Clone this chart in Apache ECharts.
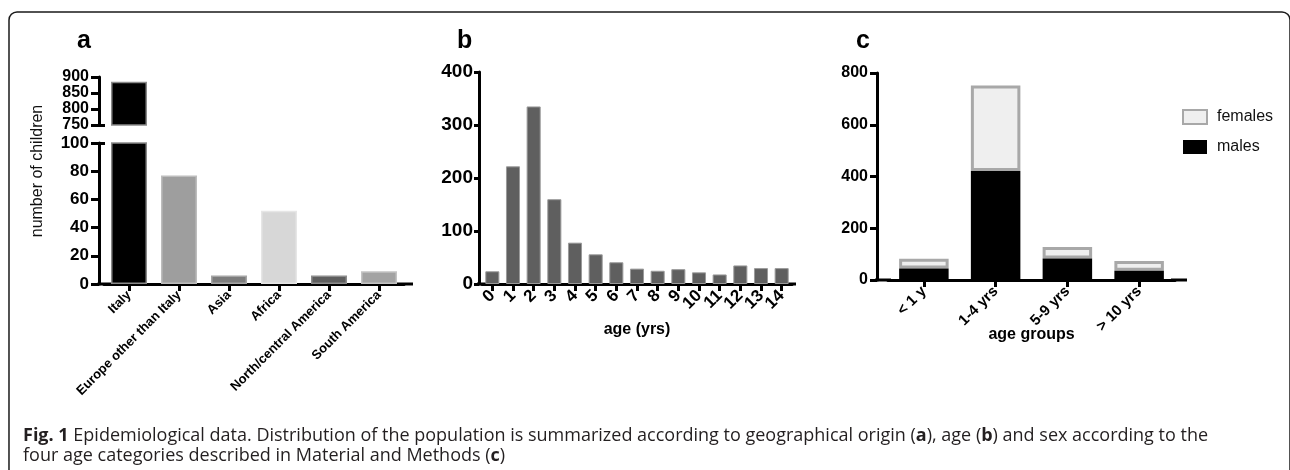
<!DOCTYPE html>
<html>
<head>
<meta charset="utf-8">
<title>Fig. 1 Epidemiological data</title>
<script src="https://cdn.jsdelivr.net/npm/echarts@6/dist/echarts.min.js"></script>
<style>
  html, body { margin: 0; padding: 0; background: #fff; }
  #chart { width: 1290px; height: 470px; }
</style>
</head>
<body>
<div id="chart"></div>
<script>
// panel a - geographical origin (broken y axis)
var originNames = ['Italy', 'Europe other than Italy', 'Asia', 'Africa', 'North/central America', 'South America'];
var originCounts = [885, 77, 6, 52, 6, 9];
var upperTicks = [750, 800, 850, 900];
var lowerTicks = [0, 20, 40, 60, 80, 100];

// panel b - age in years
var ageYears = ['0', '1', '2', '3', '4', '5', '6', '7', '8', '9', '10', '11', '12', '13', '14'];
var ageCounts = [24, 222, 335, 160, 78, 56, 41, 29, 25, 28, 22, 18, 35, 30, 30];
var ageTicks = [0, 100, 200, 300, 400];

// panel c - sex by age group
var ageGroups = ['< 1 y', '1-4 yrs', '5-9 yrs', '> 10 yrs'];
var males = [44, 421, 83, 36];
var females = [38, 331, 45, 37];
var groupTicks = [0, 200, 400, 600, 800];

// bar shades for panel a
var originFill = ['#000000', '#9e9e9e', '#7c7c7c', '#d7d7d7', '#5e5e5e', '#a3a3a3'];
var originEdge = ['#8a8a8a', '#bdbdbd', '#a5a5a5', '#e6e6e6', '#8c8c8c', '#c4c4c4'];

var FONT = '"Liberation Sans", Arial, sans-serif';
var chart = echarts.init(document.getElementById('chart'));

function line() { return { show: true, onZero: false, lineStyle: { color: '#000', width: 3 } }; }
function tick(len) { return { show: true, length: len, lineStyle: { color: '#000', width: 3 } }; }
function yAxis(grid, ticks, offset, size, len, margin) {
    return {
        type: 'value', gridIndex: grid, position: 'left', min: ticks[0], max: ticks[ticks.length - 1],
        interval: ticks[1] - ticks[0], offset: offset,
        axisLine: line(), axisTick: tick(len),
        axisLabel: {
            show: true, showMinLabel: true, showMaxLabel: true, hideOverlap: false,
            color: '#000', fontFamily: FONT, fontWeight: 'bold', fontSize: size, margin: margin
        },
        splitLine: { show: false }
    };
}
// extra axis that only draws the inner half of the break marks
function capAxis(grid, ticks, val, offset) {
    return {
        type: 'value', gridIndex: grid, position: 'left', min: ticks[0], max: ticks[ticks.length - 1],
        offset: offset, axisLine: { show: false }, axisLabel: { show: false },
        splitLine: { show: false },
        axisTick: { show: true, inside: true, length: 6, customValues: [val], lineStyle: { color: '#000', width: 3 } }
    };
}
// category x axis, the line is stretched with rect end symbols to meet the y axis
function xAxis(grid, cats, size, margin, name, gap, ext, ends) {
    var l = line();
    l.symbol = ['rect', 'rect'];
    l.symbolSize = [3, ext];
    l.symbolOffset = ends;
    return {
        type: 'category', gridIndex: grid, data: cats,
        axisLine: l, axisTick: { show: true, alignWithLabel: true, length: 7, lineStyle: { color: '#000', width: 3 } },
        axisLabel: { interval: 0, rotate: 45, color: '#000', fontFamily: FONT, fontWeight: 'bold', fontSize: size, margin: margin },
        name: name, nameLocation: 'middle', nameGap: gap, nameMoveOverlap: false,
        nameTextStyle: { color: '#000', fontFamily: FONT, fontWeight: 'bold', fontSize: 16 }
    };
}

var originData = originCounts.map(function (v, i) {
    return { value: v, itemStyle: { color: originFill[i], borderColor: originEdge[i] } };
});

var option = {
    animation: false,
    backgroundColor: '#fff',
    title: [
        { text: 'a', left: 72, top: 24, textStyle: { fontFamily: FONT, fontWeight: 'bold', fontSize: 25, color: '#000' } },
        { text: 'b', left: 452, top: 24, textStyle: { fontFamily: FONT, fontWeight: 'bold', fontSize: 25, color: '#000' } },
        { text: 'c', left: 851, top: 24, textStyle: { fontFamily: FONT, fontWeight: 'bold', fontSize: 25, color: '#000' } },
        {
            text: '{b|Fig. 1} Epidemiological data. Distribution of the population is summarized according to geographical origin ({b|a}), age ({b|b}) and sex according to the\nfour age categories described in Material and Methods ({b|c})',
            left: 18, top: 421,
            textStyle: {
                fontFamily: '"Open Sans", sans-serif', fontSize: 18, fontWeight: 'normal', color: '#231f20', lineHeight: 20,
                rich: { b: { fontFamily: '"Open Sans", sans-serif', fontSize: 18, fontWeight: 'bold', color: '#231f20', lineHeight: 20 } }
            }
        }
    ],
    legend: {
        data: ['females', 'males'], orient: 'vertical', left: 1182, top: 109, padding: 0,
        icon: 'rect', itemWidth: 24, itemHeight: 14, itemGap: 14,
        textStyle: { fontFamily: FONT, fontSize: 16, color: '#111', padding: [0, 0, 0, 5] }
    },
    grid: [
        { left: 104, top: 77, width: 300, height: 48 },
        { left: 104, top: 143, width: 300, height: 141 },
        { left: 482, top: 72, width: 310, height: 212 },
        { left: 888, top: 73, width: 287, height: 207 }
    ],
    xAxis: [
        { type: 'category', gridIndex: 0, data: originNames, show: false },
        xAxis(1, originNames, 13, 9, '', 0, 20, [3.5, -1]),
        xAxis(2, ageYears, 17, 9, 'age (yrs)', 38, 12, [1, -2]),
        xAxis(3, ageGroups, 15, 9, 'age groups', 47, 16, [-5, 4])
    ],
    yAxis: [
        yAxis(0, upperTicks, 5, 16, 8, 10),
        yAxis(1, lowerTicks, 5, 17, 8, 10),
        yAxis(2, ageTicks, 3, 19, 5, 6),
        yAxis(3, groupTicks, 11, 16, 7, 9),
        capAxis(0, upperTicks, 750, 5),
        capAxis(1, lowerTicks, 100, 5)
    ],
    series: [
        {
            type: 'bar', xAxisIndex: 0, yAxisIndex: 0, data: originData, barCategoryGap: '28%',
            itemStyle: { borderWidth: 1.5 }, clip: true
        },
        {
            type: 'bar', xAxisIndex: 1, yAxisIndex: 1, data: originData, barCategoryGap: '28%',
            itemStyle: { borderWidth: 1.5 }, clip: true
        },
        {
            type: 'bar', xAxisIndex: 2, yAxisIndex: 2, data: ageCounts, barCategoryGap: '32%',
            itemStyle: { color: '#5f5f5f', borderColor: '#9a9a9a', borderWidth: 1 }
        },
        {
            name: 'males', type: 'bar', stack: 'sex', xAxisIndex: 3, yAxisIndex: 3, data: males,
            barCategoryGap: '31%', z: 3, itemStyle: { color: '#000' }
        },
        {
            name: 'females', type: 'bar', stack: 'sex', xAxisIndex: 3, yAxisIndex: 3, data: females,
            barCategoryGap: '31%', z: 2, itemStyle: { color: '#efefef', borderColor: '#a8a8a8', borderWidth: 3 }
        }
    ],
    graphic: [
        {
            type: 'rect', silent: true,
            shape: { x: 9, y: 12, width: 1281, height: 490, r: 8 },
            style: { fill: 'none', stroke: '#1a1a1a', lineWidth: 1.5 }
        },
        {
            type: 'text', x: 38, y: 171, rotation: Math.PI / 2,
            style: {
                text: 'number of children', fontFamily: FONT, fontSize: 16, fill: '#111',
                align: 'center', verticalAlign: 'middle', textAlign: 'center', textVerticalAlign: 'middle'
            }
        }
    ]
};

chart.setOption(option);
</script>
</body>
</html>
